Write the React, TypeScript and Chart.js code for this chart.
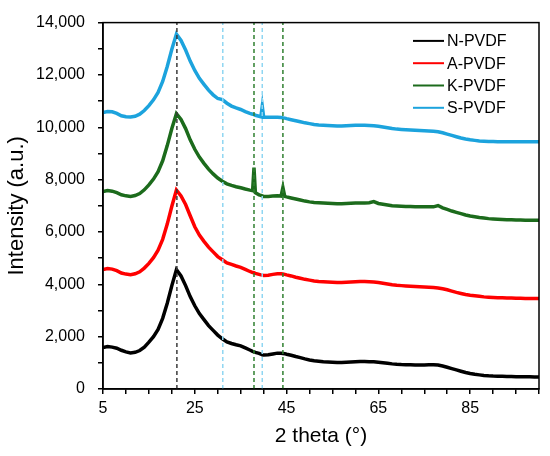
import React, { useEffect, useRef } from "react";
import { Chart, registerables } from "chart.js";

Chart.register(...registerables);

// 2 theta (deg), shared by every pattern
const angles: number[] = [
  5, 6, 7, 8, 9, 10, 11, 12, 13, 14,
  15, 16, 17, 18, 19, 20, 21, 22, 23, 24,
  25, 26, 27, 28, 29, 30, 31, 32, 33, 34,
  35, 36, 37, 37.6, 37.9, 38.2, 39, 39.4, 39.7, 40,
  41, 42, 43, 43.8, 44.2, 44.6, 45, 46, 47, 48,
  49, 50, 51, 52, 53, 54, 55, 56, 57, 58,
  59, 60, 61, 62, 63, 64, 65, 66, 67, 68,
  69, 70, 71, 72, 73, 74, 75, 76, 77, 78,
  79, 80, 81, 82, 83, 84, 85, 86, 87, 88,
  89, 90, 91, 92, 93, 94, 95, 96, 97, 98,
  99, 100,
];

const nPvdf: number[] = [
  1580, 1620, 1600, 1560, 1480, 1420, 1380, 1400, 1470, 1600,
  1790, 2000, 2280, 2700, 3280, 3950, 4560, 4320, 3950, 3530,
  3180, 2880, 2650, 2420, 2240, 2060, 1920, 1800, 1740, 1690,
  1650, 1570, 1490, 1440, 1420, 1400, 1360, 1330, 1310, 1300,
  1310, 1340, 1370, 1370, 1360, 1350, 1330, 1290, 1240, 1200,
  1150, 1110, 1080, 1060, 1040, 1030, 1020, 1010, 1010, 1020,
  1030, 1040, 1050, 1050, 1045, 1040, 1020, 1000, 980, 960,
  945, 935, 930, 925, 920, 920, 920, 925, 925, 915,
  880, 830, 780, 730, 680, 630, 590, 560, 540, 520,
  505, 495, 490, 485, 480, 475, 470, 470, 465, 465,
  460, 460,
];

const aPvdf: number[] = [
  4560, 4600, 4580, 4520, 4430, 4390, 4370, 4400, 4480, 4620,
  4800, 5020, 5300, 5720, 6300, 6980, 7600, 7380, 7050, 6620,
  6200, 5880, 5640, 5420, 5240, 5060, 4940, 4820, 4760, 4700,
  4650, 4570, 4490, 4450, 4440, 4420, 4380, 4360, 4350, 4340,
  4350, 4380, 4400, 4400, 4390, 4380, 4360, 4320, 4270, 4230,
  4190, 4160, 4130, 4110, 4100, 4090, 4080, 4070, 4070, 4080,
  4090, 4100, 4110, 4110, 4100, 4090, 4070, 4040, 4010, 3980,
  3960, 3950, 3940, 3930, 3920, 3910, 3900, 3890, 3880, 3860,
  3830, 3790, 3740, 3690, 3650, 3610, 3580, 3560, 3540, 3520,
  3510, 3500, 3490, 3490, 3480, 3480, 3470, 3470, 3460, 3460,
  3460, 3460,
];

const kPvdf: number[] = [
  7540, 7580, 7560, 7500, 7420, 7380, 7360, 7390, 7470, 7610,
  7800, 8020, 8300, 8720, 9300, 9950, 10520, 10300, 9950, 9520,
  9160, 8860, 8620, 8400, 8220, 8060, 7940, 7840, 7780, 7730,
  7690, 7640, 7600, 7580, 8460, 7500, 7420, 7400, 7380, 7360,
  7360, 7370, 7380, 7370, 7700, 7360, 7340, 7300, 7260, 7220,
  7180, 7150, 7130, 7120, 7110, 7100, 7090, 7080, 7080, 7090,
  7100, 7110, 7110, 7110, 7120, 7160, 7090, 7060, 7030, 7000,
  6990, 6980, 6970, 6970, 6960, 6960, 6960, 6960, 6960, 7010,
  6920, 6860, 6800, 6750, 6700, 6650, 6610, 6580, 6550, 6530,
  6510, 6500, 6490, 6480, 6470, 6470, 6460, 6460, 6450, 6450,
  6450, 6450,
];

const sPvdf: number[] = [
  10560, 10600, 10590, 10530, 10440, 10400, 10390, 10420, 10500, 10640,
  10830, 11050, 11330, 11750, 12320, 12980, 13560, 13320, 12950, 12530,
  12170, 11870, 11640, 11420, 11240, 11100, 11060, 10920, 10810, 10740,
  10680, 10600, 10530, 10500, 10480, 10460, 10420, 10400, 10800, 10390,
  10380, 10380, 10380, 10370, 10360, 10350, 10330, 10290, 10250, 10210,
  10170, 10140, 10110, 10090, 10080, 10070, 10060, 10050, 10050, 10060,
  10070, 10080, 10080, 10080, 10070, 10060, 10040, 10010, 9980, 9950,
  9930, 9920, 9910, 9900, 9890, 9880, 9870, 9860, 9850, 9830,
  9790, 9740, 9690, 9640, 9590, 9550, 9520, 9500, 9480, 9470,
  9460, 9460, 9450, 9450, 9450, 9450, 9450, 9450, 9450, 9450,
  9450, 9450,
];

const seriesLabels = ["N-PVDF", "A-PVDF", "K-PVDF", "S-PVDF"];
const seriesValues = [nPvdf, aPvdf, kPvdf, sPvdf];
const seriesColors = ["#000000", "#ff0000", "#1c6b1c", "#1ca3dd"];

// dashed reference positions (2 theta)
const refLines: number[] = [21.1, 31.1, 37.9, 39.7, 44.2];
const refColors = ["#3a3a3a", "#8fd6f2", "#2f7f2f", "#8fd6f2", "#2f7f2f"];

const xMin = 5;
const xMax = 100;
const yMin = 0;
const yMax = 14000;

const FONT = "'Liberation Sans', Arial, sans-serif";

const framePlugin = {
  id: "frameAndLegend",
  afterDraw(chart: any) {
    const { ctx, chartArea } = chart;
    ctx.save();
    ctx.strokeStyle = "#000";
    ctx.lineWidth = 1.5;
    ctx.strokeRect(chartArea.left, chartArea.top, chartArea.right - chartArea.left, chartArea.bottom - chartArea.top);

    // legend, stacked in the top-right corner
    ctx.font = `16px ${FONT}`;
    ctx.textBaseline = "middle";
    ctx.textAlign = "left";
    seriesLabels.forEach((label, i) => {
      const y = chartArea.top + 18.3 + i * 22.3;
      ctx.strokeStyle = seriesColors[i];
      ctx.lineWidth = 2;
      ctx.beginPath();
      ctx.moveTo(chartArea.right - 126, y);
      ctx.lineTo(chartArea.right - 95, y);
      ctx.stroke();
      ctx.fillStyle = "#000";
      ctx.fillText(label, chartArea.right - 92, y + 1);
    });
    ctx.restore();
  },
};

const App: React.FC = () => {
  const canvasRef = useRef<HTMLCanvasElement>(null);

  useEffect(() => {
    document.body.style.margin = "0";
    if (!canvasRef.current) return;

    const refSets = refLines.map((v, i) => ({
      label: "ref" + i,
      data: [
        { x: v, y: yMin },
        { x: v, y: yMax },
      ],
      borderColor: refColors[i],
      borderWidth: 1.5,
      borderDash: [4, 3],
      pointRadius: 0,
    }));

    const dataSets = seriesLabels.map((label, s) => ({
      label,
      data: angles.map((a, i) => ({ x: a, y: seriesValues[s][i] })),
      borderColor: seriesColors[s],
      borderWidth: 3.5,
      pointRadius: 0,
      tension: 0,
    }));

    const chart = new Chart(canvasRef.current, {
      type: "line",
      data: { datasets: [...refSets, ...dataSets] },
      options: {
        animation: false,
        responsive: true,
        maintainAspectRatio: false,
        layout: { padding: { top: 15, right: 11, left: 0, bottom: 0 } },
        plugins: {
          legend: { display: false },
          tooltip: { enabled: false },
        },
        scales: {
          x: {
            type: "linear",
            min: xMin,
            max: xMax,
            afterFit: (scale: any) => {
              scale.height = 67;
            },
            ticks: {
              stepSize: 5,
              autoSkip: false,
              maxRotation: 0,
              padding: 5,
              color: "#000",
              font: { family: FONT, size: 16 },
              callback: (v: any) => ((Number(v) - 5) % 20 === 0 && Number(v) < 100 ? String(v) : ""),
            },
            grid: { drawOnChartArea: false, tickLength: 5, color: "#000", lineWidth: 1.5 },
            border: { color: "#000", width: 1.5 },
            title: {
              display: true,
              text: "2 theta (°)",
              color: "#000",
              font: { family: FONT, size: 21 },
              padding: { top: 0, bottom: 7 },
            },
          },
          y: {
            min: yMin,
            max: yMax,
            afterFit: (scale: any) => {
              scale.width = 103;
            },
            ticks: {
              stepSize: 1000,
              autoSkip: false,
              padding: 13,
              color: "#000",
              font: { family: FONT, size: 16 },
              callback: (v: any) => (Number(v) % 2000 === 0 ? Number(v).toLocaleString("en-US") : ""),
            },
            grid: { drawOnChartArea: false, tickLength: 5, color: "#000", lineWidth: 1.5 },
            border: { color: "#000", width: 1.5 },
            title: {
              display: true,
              text: "Intensity (a.u.)",
              color: "#000",
              font: { family: FONT, size: 22 },
              padding: { top: 4, bottom: 0 },
            },
          },
        },
      },
      plugins: [framePlugin],
    });

    return () => {
      chart.destroy();
    };
  }, []);

  return (
    <div style={{ position: "relative", width: 550, height: 456 }}>
      <canvas ref={canvasRef}></canvas>
    </div>
  );
};

export default App;
